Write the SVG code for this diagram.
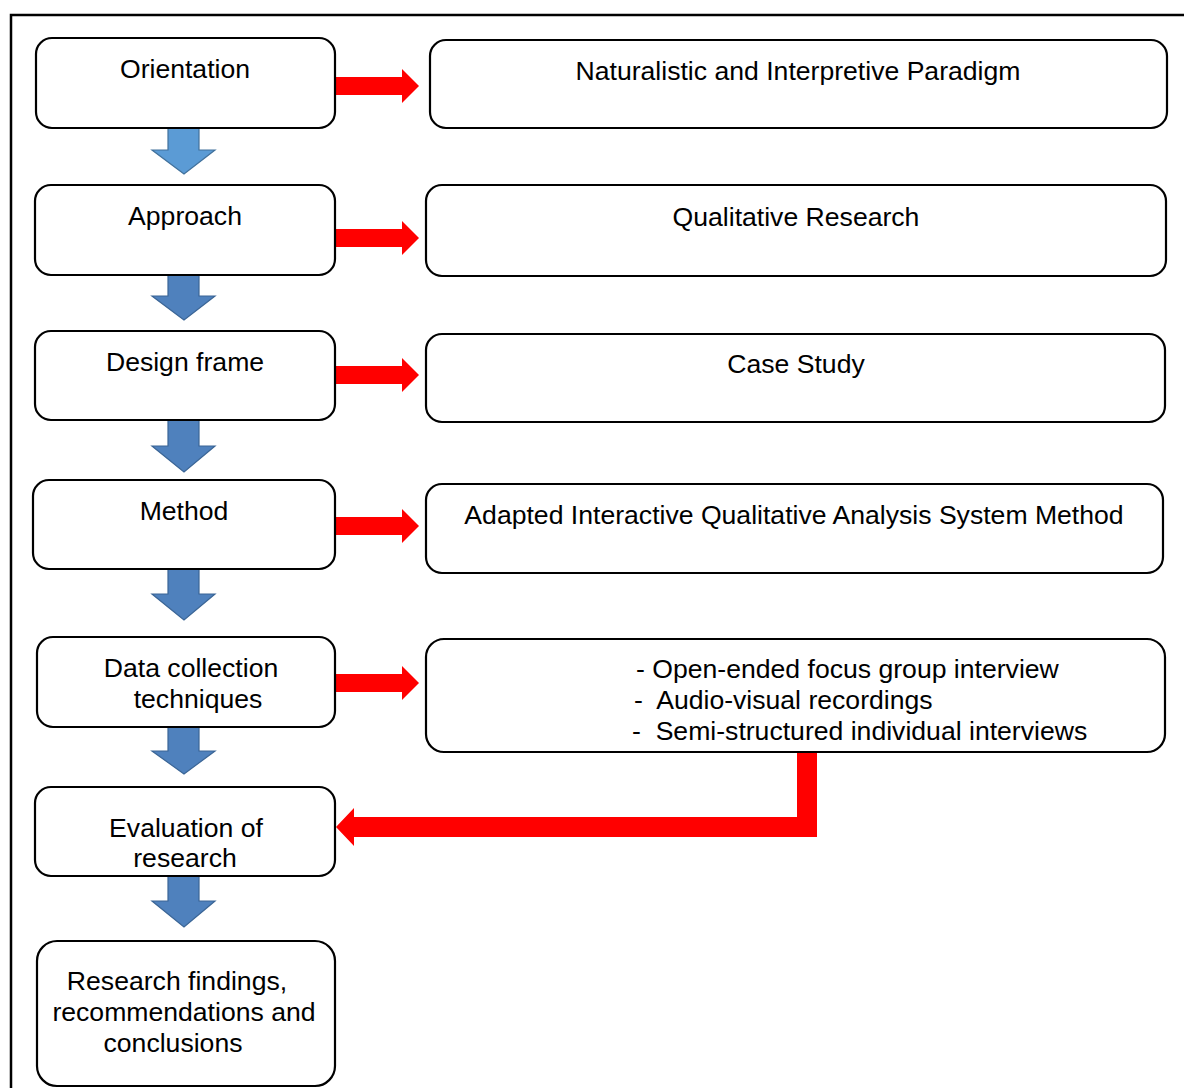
<svg xmlns="http://www.w3.org/2000/svg" width="1184" height="1088" viewBox="0 0 1184 1088">
<style>
.box{fill:#fff;stroke:#000;stroke-width:2.2}
.t{font-family:"Liberation Sans",Arial,sans-serif;font-size:26.6px;fill:#000}
.c{text-anchor:middle}
.red{fill:#ff0000}
.blue{fill:#4f81bd;stroke:#3a6596;stroke-width:1.2}
.blue1{fill:#5b9bd5;stroke:#41719c;stroke-width:1.2}
</style>
<rect width="1184" height="1088" fill="#fff"/>
<path d="M11 1090 V15 H1186" fill="none" stroke="#000" stroke-width="2.5"/>
<g id="connectors">
  <path class="blue1" d="M168 127 H199 V150 H215 L184 174 L152 150 H168 Z"/>
  <path class="blue" d="M168 274 H199 V296 H215 L184 320 L152 296 H168 Z"/>
  <path class="blue" d="M168 420 H199 V446 H215 L184 472 L152 446 H168 Z"/>
  <path class="blue" d="M168 569 H199 V594 H215 L184 620 L152 594 H168 Z"/>
  <path class="blue" d="M168 727 H199 V751 H215 L184 774 L152 751 H168 Z"/>
  <path class="blue" d="M168 876 H199 V901 H215 L184 927 L152 901 H168 Z"/>
  <path class="red" d="M336 77 H402 V69 L419 86 L402 103 V95 H336 Z"/>
  <path class="red" d="M336 229 H402 V221 L419 238 L402 255 V247 H336 Z"/>
  <path class="red" d="M336 366 H402 V358 L419 375 L402 392 V384 H336 Z"/>
  <path class="red" d="M336 517 H402 V509 L419 526 L402 543 V535 H336 Z"/>
  <path class="red" d="M336 674 H402 V666 L419 683 L402 700 V692 H336 Z"/>
  <path class="red" d="M817 752 V837 H354 V846 L336 827 L354 808 V817 H797 V752 Z"/>
</g>
<g id="n1"><rect class="box" x="36" y="38" width="299" height="90" rx="16"/><text class="t c" x="185" y="78">Orientation</text></g>
<g id="n2"><rect class="box" x="35" y="185" width="300" height="90" rx="16"/><text class="t c" x="185" y="225">Approach</text></g>
<g id="n3"><rect class="box" x="35" y="331" width="300" height="89" rx="16"/><text class="t c" x="185" y="371">Design frame</text></g>
<g id="n4"><rect class="box" x="33" y="480" width="302" height="89" rx="16"/><text class="t c" x="184" y="520">Method</text></g>
<g id="n5"><rect class="box" x="37" y="637" width="298" height="90" rx="16"/><text class="t c" x="191" y="677">Data collection</text><text class="t c" x="198" y="708">techniques</text></g>
<g id="n6"><rect class="box" x="35" y="787" width="300" height="89" rx="16"/><text class="t c" x="186" y="837">Evaluation of</text><text class="t c" x="185" y="867">research</text></g>
<g id="n7"><rect class="box" x="37" y="941" width="298" height="145" rx="20"/><text class="t c" x="177" y="990">Research findings,</text><text class="t c" x="184" y="1021">recommendations and</text><text class="t c" x="173" y="1052">conclusions</text></g>
<g id="r1"><rect class="box" x="430" y="40" width="737" height="88" rx="16"/><text class="t c" x="798" y="80">Naturalistic and Interpretive Paradigm</text></g>
<g id="r2"><rect class="box" x="426" y="185" width="740" height="91" rx="16"/><text class="t c" x="796" y="226">Qualitative Research</text></g>
<g id="r3"><rect class="box" x="426" y="334" width="739" height="88" rx="16"/><text class="t c" x="796" y="373">Case Study</text></g>
<g id="r4"><rect class="box" x="426" y="484" width="737" height="89" rx="16"/><text class="t c" x="794" y="524">Adapted Interactive Qualitative Analysis System Method</text></g>
<g id="r5"><rect class="box" x="426" y="639" width="739" height="113" rx="18"/>
<text class="t" x="636" y="678" xml:space="preserve">- Open-ended focus group interview</text>
<text class="t" x="634" y="709" xml:space="preserve">-  Audio-visual recordings</text>
<text class="t" x="632" y="740" xml:space="preserve">-  Semi-structured individual interviews</text></g>
</svg>
